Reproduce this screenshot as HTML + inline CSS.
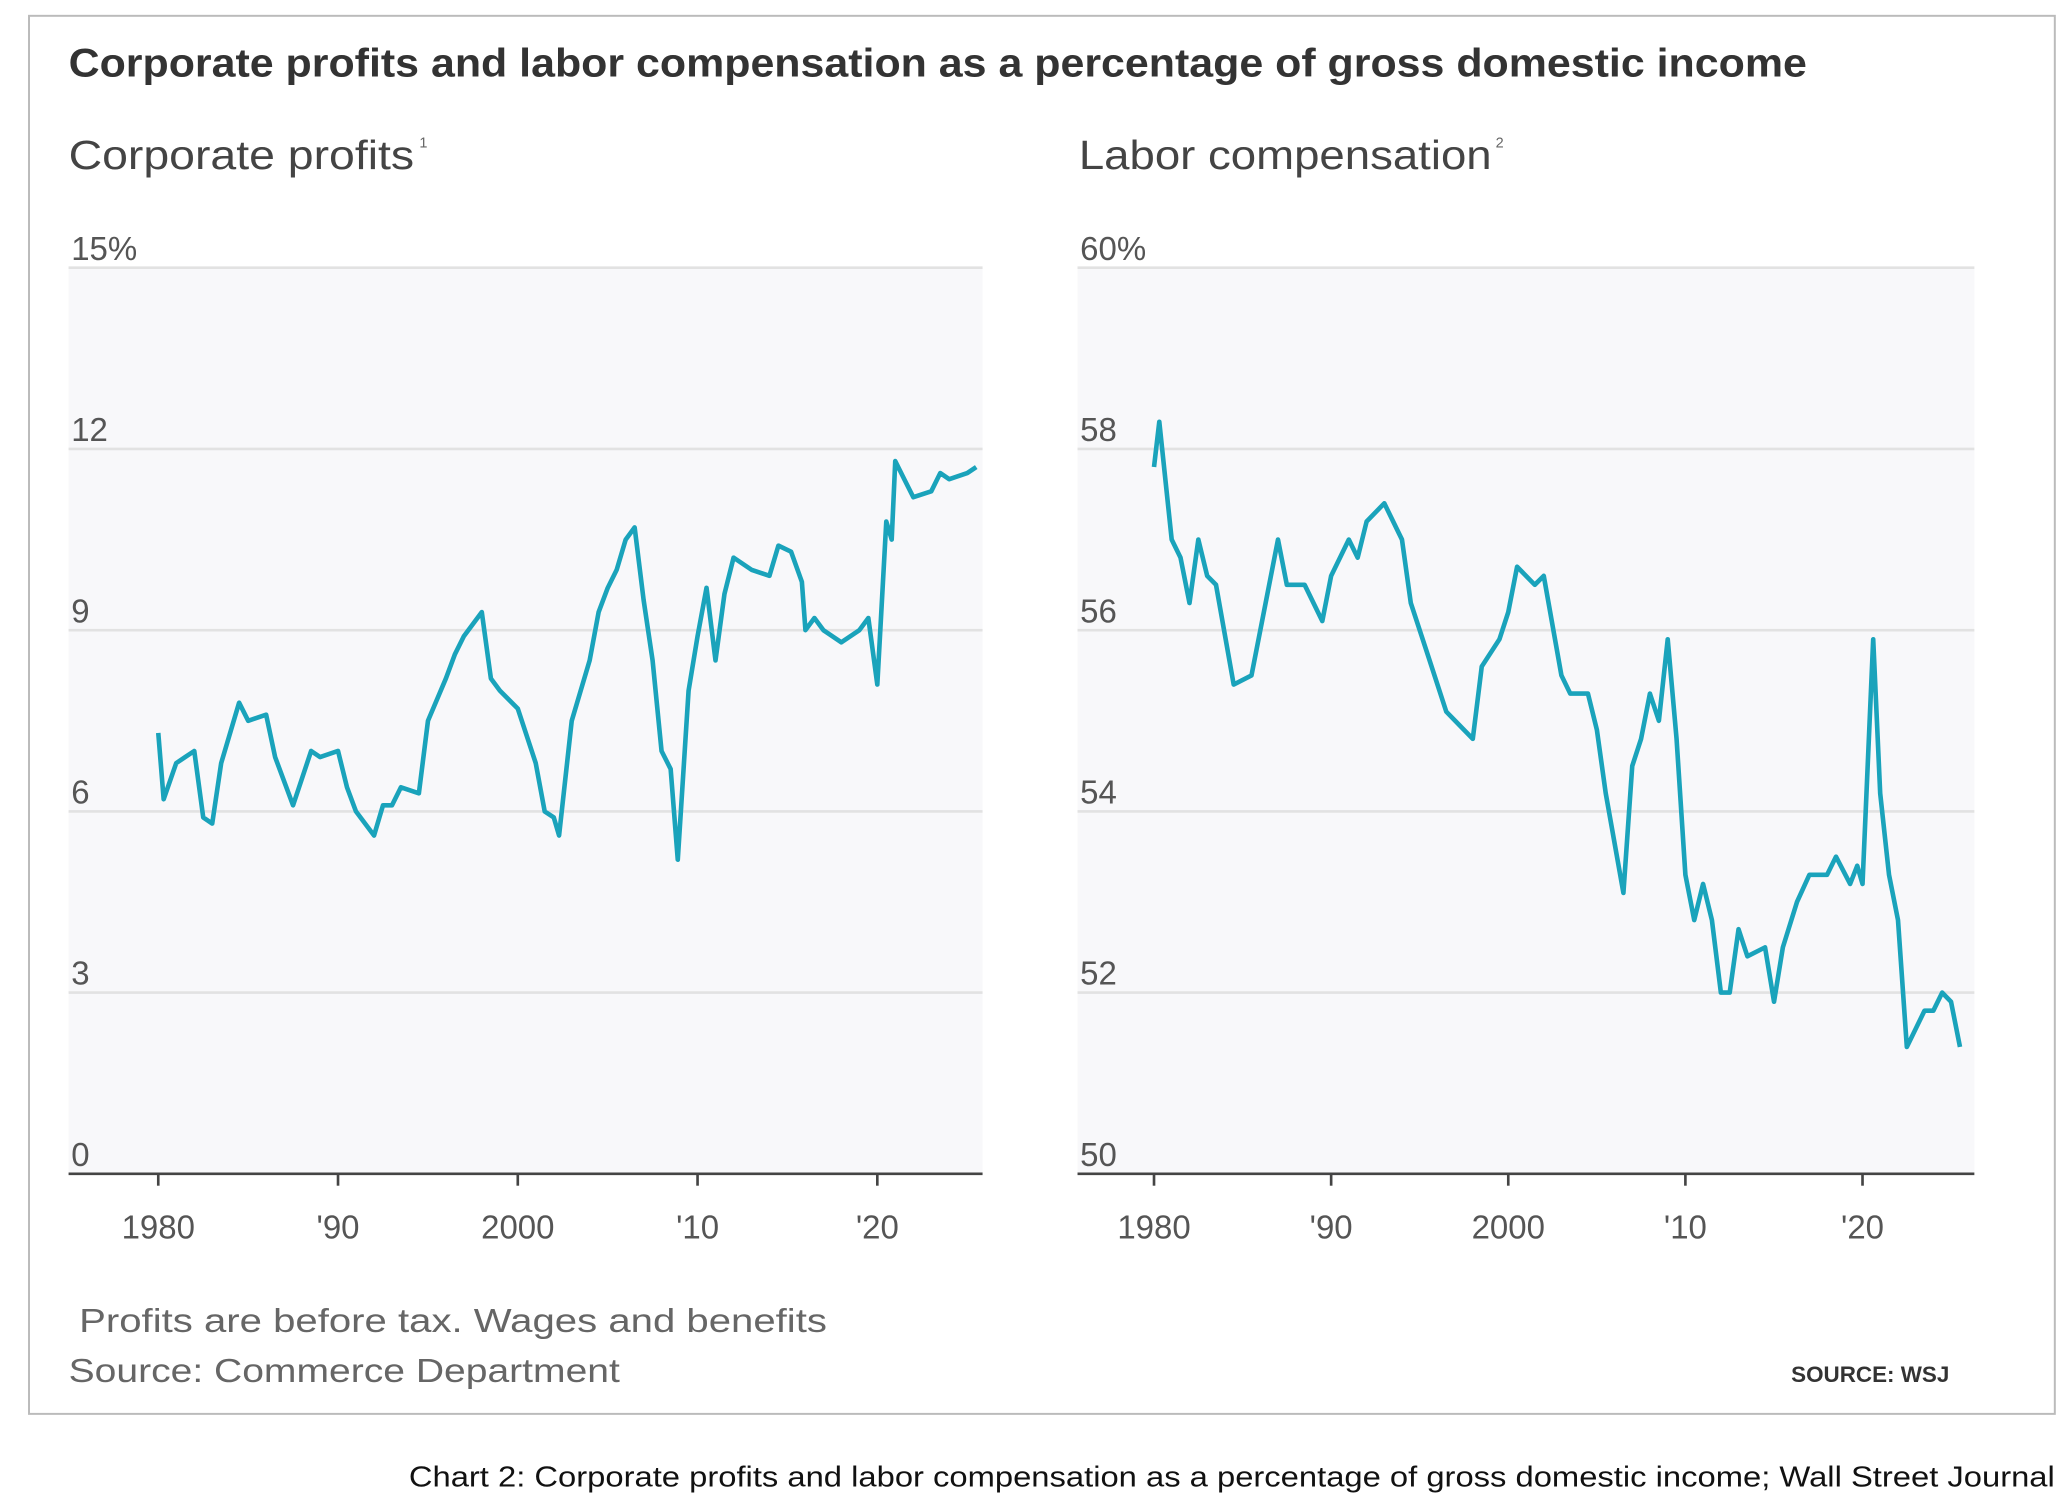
<!DOCTYPE html>
<html><head><meta charset="utf-8"><style>
html,body{margin:0;padding:0;background:#fff;width:2068px;height:1500px;overflow:hidden}
svg{display:block}
text{font-family:"Liberation Sans",sans-serif}
</style></head><body>
<svg id="chart" width="2068" height="1500" viewBox="0 0 1568 1137.3" preserveAspectRatio="none">
<rect x="22" y="12" width="1536" height="1060" fill="#fff" stroke="#bbb" stroke-width="1.5"/>
<text x="52" y="58" font-size="30" font-weight="bold" fill="#333" textLength="1318" lengthAdjust="spacingAndGlyphs">Corporate profits and labor compensation as a percentage of gross domestic income</text>
<text x="52" y="128" font-size="31" fill="#444" textLength="262" lengthAdjust="spacingAndGlyphs">Corporate profits</text>
<text x="318" y="112" font-size="11" fill="#666">1</text>
<text x="818" y="128" font-size="31" fill="#444" textLength="313" lengthAdjust="spacingAndGlyphs">Labor compensation</text>
<text x="1134" y="112" font-size="11" fill="#666">2</text>
<g id="left"></g>
<g id="right"></g>
<text x="60" y="1010" font-size="25" fill="#666" textLength="567" lengthAdjust="spacingAndGlyphs">Profits are before tax. Wages and benefits</text>
<text x="52" y="1048" font-size="25" fill="#666" textLength="418" lengthAdjust="spacingAndGlyphs">Source: Commerce Department</text>
<text x="1478" y="1048" font-size="17" font-weight="bold" fill="#333" text-anchor="end">SOURCE: WSJ</text>
<text x="310" y="1127" font-size="22" fill="#111" textLength="1248" lengthAdjust="spacingAndGlyphs">Chart 2: Corporate profits and labor compensation as a percentage of gross domestic income; Wall Street Journal</text>
</svg>
<script>
const years=[1980,1990,2000,2010,2020];
const yearLabels=['1980',"'90",'2000',"'10","'20"];
const profitTicks=[0,3,6,9,12,15];
const profitTickLabels=['0','3','6','9','12','15%'];
const laborTicks=[50,52,54,56,58,60];
const laborTickLabels=['50','52','54','56','58','60%'];
const profitYears=[1980,1980.3,1981,1981.5,1982,1982.5,1983,1983.5,1984.5,1985,1986,1986.5,1987.5,1988.5,1989,1990,1990.5,1991,1992,1992.5,1993,1993.5,1994.5,1995,1996,1996.5,1997,1998,1998.5,1999,2000,2001,2001.5,2002,2002.3,2003,2004,2004.5,2005,2005.5,2006,2006.5,2007,2007.5,2008,2008.5,2008.9,2009.5,2010,2010.5,2011,2011.5,2012,2013,2014,2014.5,2015.2,2015.8,2016,2016.5,2017,2018,2019,2019.5,2020,2020.5,2020.8,2021,2021.5,2022,2023,2023.5,2024,2025,2025.5];
const profitValues=[7.3,6.2,6.8,6.9,7.0,5.9,5.8,6.8,7.8,7.5,7.6,6.9,6.1,7.0,6.9,7.0,6.4,6.0,5.6,6.1,6.1,6.4,6.3,7.5,8.2,8.6,8.9,9.3,8.2,8.0,7.7,6.8,6.0,5.9,5.6,7.5,8.5,9.3,9.7,10.0,10.5,10.7,9.5,8.5,7.0,6.7,5.2,8.0,8.9,9.7,8.5,9.6,10.2,10.0,9.9,10.4,10.3,9.8,9.0,9.2,9.0,8.8,9.0,9.2,8.1,10.8,10.5,11.8,11.5,11.2,11.3,11.6,11.5,11.6,11.7];
const laborYears=[1980,1980.3,1981,1981.5,1982,1982.5,1983,1983.5,1984.5,1985.5,1986,1987,1987.5,1988.5,1989.5,1990,1991,1991.5,1992,1993,1994,1994.5,1995.5,1996.5,1997,1998,1998.5,1999.5,2000,2000.5,2001.5,2002,2003,2003.5,2004.5,2005,2005.5,2006.5,2007,2007.5,2008,2008.5,2009,2009.5,2010,2010.5,2011,2011.5,2012,2012.5,2013,2013.5,2014.5,2015,2015.5,2016.3,2017,2018,2018.5,2019.3,2019.7,2020,2020.6,2021,2021.5,2022,2022.5,2023,2023.5,2024,2024.5,2025,2025.5];
const laborValues=[57.8,58.3,57.0,56.8,56.3,57.0,56.6,56.5,55.4,55.5,56.0,57.0,56.5,56.5,56.1,56.6,57.0,56.8,57.2,57.4,57.0,56.3,55.7,55.1,55.0,54.8,55.6,55.9,56.2,56.7,56.5,56.6,55.5,55.3,55.3,54.9,54.2,53.1,54.5,54.8,55.3,55.0,55.9,54.8,53.3,52.8,53.2,52.8,52.0,52.0,52.7,52.4,52.5,51.9,52.5,53.0,53.3,53.3,53.5,53.2,53.4,53.2,55.9,54.2,53.3,52.8,51.4,51.6,51.8,51.8,52.0,51.9,51.4];
const NS='http://www.w3.org/2000/svg';
function mk(tag,attrs,parent){const e=document.createElementNS(NS,tag);for(const k in attrs)e.setAttribute(k,attrs[k]);parent.appendChild(e);return e;}
function panel(g,cfg){
  const {x0,x1,y0,y1,vmin,vmax,ticks,tickLabels,x1980,perDecade,xs,vs,lineName}=cfg;
  const sy=v=>y1-(v-vmin)/(vmax-vmin)*(y1-y0);
  const sx=yr=>x1980+(yr-1980)/10*perDecade;
  const bg=mk('rect',{x:x0,y:y0,width:x1-x0,height:y1-y0,fill:'#f8f8fa'},g);
  
  
  ticks.forEach((t,i)=>{
    if(i>0){const l=mk('line',{x1:x0,x2:x1,y1:sy(t),y2:sy(t),stroke:'#e2e2e2','stroke-width':2},g);
    
    }
    const tx=mk('text',{x:x0+2,y:sy(t)-6,'font-size':25,fill:'#555'},g);tx.textContent=tickLabels[i];
    
    
  });
  const ax=mk('line',{x1:x0,x2:x1,y1:y1,y2:y1,stroke:'#444','stroke-width':2},g);
  
  
  years.forEach((yr,i)=>{
    const t=mk('line',{x1:sx(yr),x2:sx(yr),y1:y1,y2:y1+9,stroke:'#444','stroke-width':2},g);
    
    
    const tx=mk('text',{x:sx(yr),y:y1+49,'font-size':25,fill:'#555','text-anchor':'middle'},g);tx.textContent=yearLabels[i];
    
    
  });
  const d=xs.map((yr,i)=>(i?'L':'M')+sx(yr).toFixed(1)+','+sy(vs[i]).toFixed(1)).join('');
  const p=mk('path',{d:d,fill:'none',stroke:'#1aa3bb','stroke-width':3.5,'stroke-linejoin':'round'},g);
  
  
}
panel(document.getElementById('left'),{x0:52,x1:745,y0:203,y1:890,vmin:0,vmax:15,ticks:profitTicks,tickLabels:profitTickLabels,x1980:120,perDecade:136.3,xs:profitYears,vs:profitValues,lineName:'profits-line'});
panel(document.getElementById('right'),{x0:817,x1:1497,y0:203,y1:890,vmin:50,vmax:60,ticks:laborTicks,tickLabels:laborTickLabels,x1980:875,perDecade:134.3,xs:laborYears,vs:laborValues,lineName:'labor-line'});
</script>
</body></html>
